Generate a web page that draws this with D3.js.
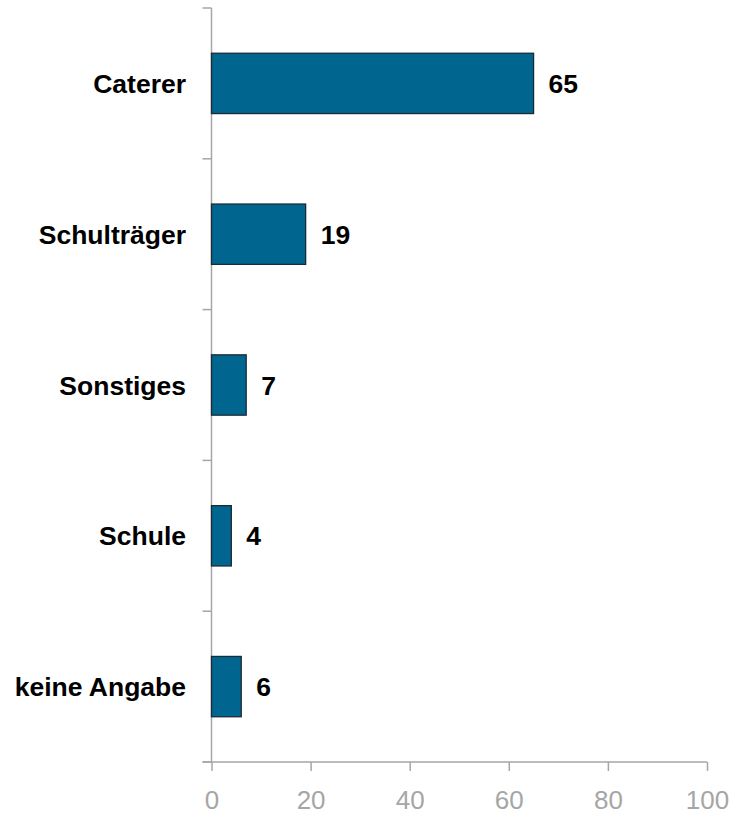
<!DOCTYPE html>
<html><head><meta charset="utf-8">
<script src="https://cdn.jsdelivr.net/npm/d3@7"></script>
<style>body{margin:0;background:#fff}svg{display:block}</style>
</head><body>
<svg id="c" width="729" height="816"></svg>
<script>
const categories = ["Caterer", "Schulträger", "Sonstiges", "Schule", "keine Angabe"];
const values = [65, 19, 7, 4, 6];
const xTicks = [0, 20, 40, 60, 80, 100];

const svg = d3.select("#c");
const x = d3.scaleLinear().domain([0, 100]).range([211.5, 707]);
const y = d3.scaleBand().domain(categories).range([8, 762]).paddingInner(0.6).paddingOuter(0.3);
const axisColor = "#a6a6a6";
const font = "'Liberation Sans', Arial, sans-serif";

// y axis line and ticks at band boundaries
const step = y.step();
const boundaries = d3.range(categories.length + 1).map(i => 8 + i * step);
svg.append("line").attr("x1", x(0)).attr("x2", x(0)).attr("y1", 8).attr("y2", 762)
  .attr("stroke", axisColor).attr("stroke-width", 1.5);
svg.selectAll(".yt").data(boundaries).join("line")
  .attr("x1", x(0) - 9).attr("x2", x(0)).attr("y1", d => d).attr("y2", d => d)
  .attr("stroke", axisColor).attr("stroke-width", 1.5);

// x axis
const gx = svg.append("g").attr("transform", "translate(0,762)")
  .call(d3.axisBottom(x).tickValues(xTicks).tickSize(9).tickPadding(20).tickSizeOuter(0));
gx.select(".domain").remove();
gx.append("line").attr("x1", x(0) - 9).attr("x2", x(100)).attr("stroke", axisColor).attr("stroke-width", 1.5);
gx.selectAll(".tick line").attr("stroke", axisColor).attr("stroke-width", 1.5);
gx.selectAll(".tick text").attr("fill", axisColor).attr("font-size", 26).attr("font-family", font);

// bars
svg.selectAll(".bar").data(categories).join("rect")
  .attr("x", x(0)).attr("y", d => y(d))
  .attr("width", (d, i) => x(values[i]) - x(0))
  .attr("height", y.bandwidth())
  .attr("fill", "#00668f").attr("stroke", "#1c2a36").attr("stroke-width", 1.3);

// category labels
svg.selectAll(".cl").data(categories).join("text")
  .attr("x", 186).attr("y", d => y(d) + y.bandwidth() / 2).attr("dy", "0.36em")
  .attr("text-anchor", "end").attr("font-family", font).attr("font-weight", "bold")
  .attr("font-size", 26.5).attr("fill", "#000").text(d => d);

// value labels
svg.selectAll(".vl").data(categories).join("text")
  .attr("x", (d, i) => x(values[i]) + 15).attr("y", d => y(d) + y.bandwidth() / 2).attr("dy", "0.36em")
  .attr("font-family", font).attr("font-weight", "bold")
  .attr("font-size", 26.5).attr("fill", "#000").text((d, i) => values[i]);
</script>
</body></html>
